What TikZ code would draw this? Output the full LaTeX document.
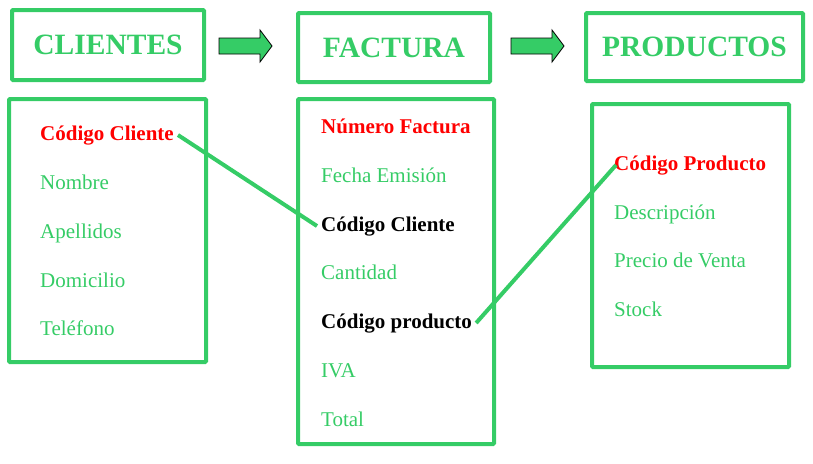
\documentclass[tikz,border=0pt]{standalone}
\usepackage{fontspec}
\setmainfont{Liberation Serif}
\usepackage{tikz}
\usetikzlibrary{calc,positioning}
\definecolor{verde}{RGB}{53,204,102}
\tikzstyle{titlebox}  = [draw=verde, line width=4pt, rounded corners=1pt, text=verde, font=\fontsize{29.5}{34}\selectfont\bfseries, inner sep=0pt]
\tikzstyle{listbox}   = [draw=verde, line width=4pt, rounded corners=1pt, inner sep=0pt]
\tikzstyle{campo}     = [anchor=base west, inner xsep=4pt, inner ysep=0pt, text=verde, font=\fontsize{21}{24}\selectfont]
\tikzstyle{clave}     = [campo, text=red, font=\fontsize{21}{24}\selectfont\bfseries]
\tikzstyle{ajena}     = [campo, text=black, font=\fontsize{21}{24}\selectfont\bfseries]
\tikzstyle{enlace}    = [draw=verde, line width=4pt]
\tikzstyle{flecha}    = [draw=black, fill=verde, line width=0.8pt]

\begin{document}
\begin{tikzpicture}[x=1pt,y=-1pt]
        \useasboundingbox (0,0) rectangle (813,463);

        % titulos
        \node[titlebox, minimum width=192pt, minimum height=70pt] (clientes) at (108,45) {CLIENTES};
        \node[titlebox, minimum width=192pt, minimum height=69pt] (factura) at (394,47.5) {FACTURA};
        \node[titlebox, minimum width=217pt, minimum height=68pt] (productos) at (694.5,47) {PRODUCTOS};

        % flechas
        \foreach \x in {219,511}
            \draw[flecha] (\x,38) -- (\x+41,38) -- (\x+41,30) -- (\x+53,46) -- (\x+41,62) -- (\x+41,54) -- (\x,54) -- cycle;

        % cajas
        \node[listbox, minimum width=197pt, minimum height=263pt] (tclientes) at (107.5,230.5) {};
        \node[listbox, minimum width=196pt, minimum height=345pt] (tfactura) at (396,271.5) {};
        \node[listbox, minimum width=197pt, minimum height=263pt] (tproductos) at (690.5,235.5) {};

        % clientes
        \node[clave] (c1) at (36,140) {Código Cliente};
        \node[campo] (c2) at (36,189) {Nombre};
        \node[campo] (c3) at (36,238) {Apellidos};
        \node[campo] (c4) at (36,287) {Domicilio};
        \node[campo] (c5) at (36,335) {Teléfono};

        % factura
        \node[clave] (f1) at (317,133) {Número Factura};
        \node[campo] (f2) at (317,182) {Fecha Emisión};
        \node[ajena] (f3) at (317,231) {Código Cliente};
        \node[campo] (f4) at (317,279) {Cantidad};
        \node[ajena] (f5) at (317,328) {Código producto};
        \node[campo] (f6) at (317,377) {IVA};
        \node[campo] (f7) at (317,426) {Total};

        % productos
        \node[clave] (p1) at (610,170) {Código Producto};
        \node[campo] (p2) at (610,219) {Descripción};
        \node[campo] (p3) at (610,267) {Precio de Venta};
        \node[campo] (p4) at (610,316) {Stock};

        \draw[enlace] (c1.east) -- (f3.west);
        \draw[enlace] (f5.east) -- ($(p1.west)+(6,0)$);
    \end{tikzpicture}
\end{document}
